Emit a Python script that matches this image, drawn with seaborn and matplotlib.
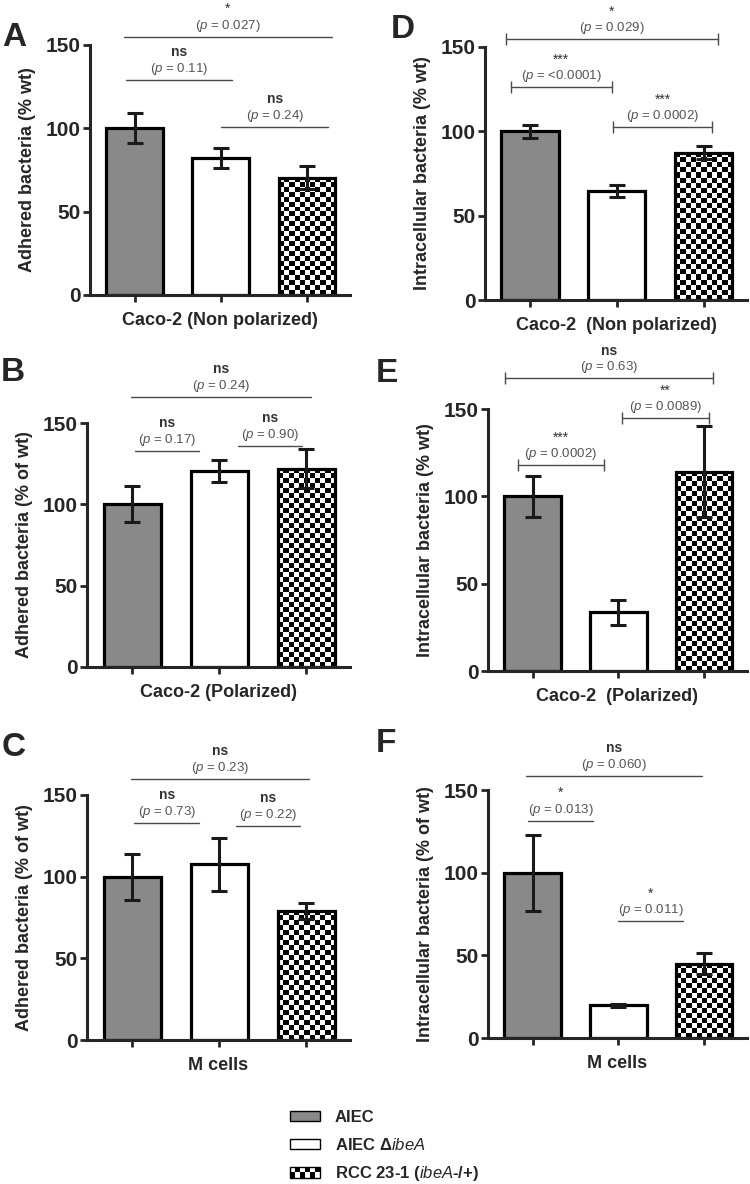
import numpy as np
import matplotlib
matplotlib.use("Agg")
import matplotlib.pyplot as plt
from matplotlib.patches import Patch, Rectangle
from matplotlib.legend_handler import HandlerBase
import seaborn as sns

# =========================
# DATA (mean and SEM, % of wt)
# =========================
strains = ["AIEC", "AIEC ΔibeA", "RCC 23-1 (ibeA-/+)"]

a_mean = [100, 82, 70.5]
a_sem = [9, 6, 7]
a_stars = ["*", "ns", "ns"]
a_pvals = ["0.027", "0.11", "0.24"]

b_mean = [100, 120.5, 122]
b_sem = [11, 7, 12]
b_stars = ["ns", "ns", "ns"]
b_pvals = ["0.24", "0.17", "0.90"]

c_mean = [100, 107.5, 79]
c_sem = [14, 16, 5]
c_stars = ["ns", "ns", "ns"]
c_pvals = ["0.23", "0.73", "0.22"]

d_mean = [100, 64.7, 87.4]
d_sem = [4, 3.4, 4]
d_stars = ["*", "***", "***"]
d_pvals = ["0.029", "<0.0001", "0.0002"]

e_mean = [100, 33.5, 114]
e_sem = [11.8, 7, 26]
e_stars = ["ns", "**", "***"]
e_pvals = ["0.63", "0.0089", "0.0002"]

f_mean = [100, 19.7, 45]
f_sem = [23, 1, 6.5]
f_stars = ["ns", "*", "*"]
f_pvals = ["0.060", "0.013", "0.011"]

# =========================
# STYLE
# =========================
sns.set_style("ticks")
plt.rcParams["font.family"] = ["Liberation Sans", "DejaVu Sans"]
plt.rcParams["mathtext.fontset"] = "custom"
plt.rcParams["mathtext.rm"] = "Liberation Sans"
plt.rcParams["mathtext.it"] = "Liberation Sans:italic"
plt.rcParams["mathtext.bf"] = "Liberation Sans:bold"

gray = "#898989"
palette = [gray, "white", "white"]

fig = plt.figure(figsize=(7.5, 11.84), dpi=100)
W, H = 750, 1184


def px_rect(x0, y0, x1, y1):
    return [x0 / W, 1 - y1 / H, (x1 - x0) / W, (y1 - y0) / H]


# bracket geometry: (x from, x to, y level), end caps on/off
panels = [
    dict(letter="A", rect=px_rect(90, 45, 350, 295), lpos=(14, 37),
         mean=a_mean, sem=a_sem, stars=a_stars, pvals=a_pvals,
         ylabel="Adhered bacteria (% wt)", xlabel="Caco-2 (Non polarized)",
         br=[(-0.13, 2.29, 155), (-0.10, 1.13, 129), (1.00, 2.25, 100.8)], caps=False),
    dict(letter="B", rect=px_rect(87, 423, 350, 667), lpos=(13, 372),
         mean=b_mean, sem=b_sem, stars=b_stars, pvals=b_pvals,
         ylabel="Adhered bacteria (% of wt)", xlabel="Caco-2 (Polarized)",
         br=[(-0.01, 2.05, 166), (0.03, 0.77, 133), (1.21, 1.95, 136)], caps=False),
    dict(letter="C", rect=px_rect(87, 795, 350, 1040), lpos=(14, 748),
         mean=c_mean, sem=c_sem, stars=c_stars, pvals=c_pvals,
         ylabel="Adhered bacteria (% of wt)", xlabel="M cells",
         br=[(-0.01, 2.03, 159.8), (0.02, 0.77, 132.9), (1.19, 1.93, 131)], caps=False),
    dict(letter="D", rect=px_rect(485, 47, 747, 300), lpos=(403, 30),
         mean=d_mean, sem=d_sem, stars=d_stars, pvals=d_pvals,
         ylabel="Intracellular bacteria (% wt)", xlabel="Caco-2  (Non polarized)",
         br=[(-0.28, 2.16, 154.7), (-0.22, 0.94, 126), (0.96, 2.10, 102.5)], caps=True),
    dict(letter="E", rect=px_rect(488, 409, 747, 671), lpos=(387, 373),
         mean=e_mean, sem=e_sem, stars=e_stars, pvals=e_pvals,
         ylabel="Intracellular bacteria (% wt)", xlabel="Caco-2  (Polarized)",
         br=[(-0.32, 2.10, 167.5), (1.04, 2.06, 144.6), (-0.17, 0.83, 117.7)], caps=True),
    dict(letter="F", rect=px_rect(488, 790, 747, 1038), lpos=(386, 744),
         mean=f_mean, sem=f_sem, stars=f_stars, pvals=f_pvals,
         ylabel="Intracellular bacteria (% of wt)", xlabel="M cells",
         br=[(-0.08, 1.98, 158.7), (-0.05, 0.71, 131.4), (1.00, 1.75, 70.7)], caps=False),
]


def fill_checker(ax, bar, cell_px=5):
    x0, w, h = bar.get_x(), bar.get_width(), bar.get_height()
    p0 = ax.transData.transform((x0, 0))
    p1 = ax.transData.transform((x0 + w, h))
    nx = max(1, int(round((p1[0] - p0[0]) / cell_px)))
    ny = max(1, int(round((p1[1] - p0[1]) / cell_px)))
    grid = (np.add.outer(np.arange(ny), np.arange(nx)) % 2).astype(float)
    im = ax.imshow(grid, cmap="gray", vmin=0, vmax=1, extent=(x0, x0 + w, 0, h),
                   origin="lower", interpolation="nearest", aspect="auto",
                   zorder=bar.get_zorder() - 0.1)
    im.set_clip_path(bar)
    bar.set_facecolor("none")


for p in panels:
    ax = fig.add_axes(p["rect"])
    sns.barplot(x=strains, y=p["mean"], hue=strains, palette=palette, legend=False,
                width=0.66, edgecolor="black", linewidth=2.3, errorbar=None, ax=ax)
    ax.set_xlim(-0.52, 2.5)
    ax.set_ylim(0, 150)
    bars = [c[0] for c in ax.containers]
    xs = [b.get_x() + b.get_width() / 2 for b in bars]
    ax.errorbar(xs, p["mean"], yerr=p["sem"], fmt="none", ecolor="#1a1a1a",
                elinewidth=2.2, capsize=6, capthick=2.2, zorder=5)
    fill_checker(ax, bars[2])
    ax.set_xlim(-0.52, 2.5)
    ax.set_ylim(0, 150)

    sns.despine(ax=ax)
    for s in ["left", "bottom"]:
        ax.spines[s].set_linewidth(2.2)
    ax.set_yticks([0, 50, 100, 150])
    ax.set_xticks([0, 1, 2])
    ax.set_xticklabels(["", "", ""])
    ax.tick_params(axis="both", length=5, width=2, pad=2, labelsize=15)
    for t in ax.get_yticklabels():
        t.set_fontweight("bold")
    ax.set_ylabel(p["ylabel"], fontsize=13, fontweight="bold", labelpad=7)
    ax.set_xlabel(p["xlabel"], fontsize=13, fontweight="bold", labelpad=5)

    # significance brackets
    for (x1, x2, y), star, pv in zip(p["br"], p["stars"], p["pvals"]):
        ax.plot([x1, x2], [y, y], color="#4a4a4a", lw=1, clip_on=False,
                marker="|" if p["caps"] else None, markersize=9, markeredgewidth=1)
        xm = (x1 + x2) / 2
        ax.annotate(rf"($\mathit{{p}}$ = {pv})", (xm, y), xytext=(0, 8),
                    textcoords="offset points", ha="center", va="center",
                    fontsize=9.5, color="#555555", annotation_clip=False)
        ax.annotate(star, (xm, y), xytext=(0, 20), textcoords="offset points",
                    ha="center", va="center", fontsize=10,
                    fontweight="bold" if star == "ns" else "normal",
                    color="#333333", annotation_clip=False)

    fig.text(p["lpos"][0] / W, 1 - p["lpos"][1] / H, p["letter"], fontsize=24,
             fontweight="bold", ha="center", va="center")


# =========================
# LEGEND
# =========================
class CheckerHandler(HandlerBase):
    def create_artists(self, legend, orig_handle, xdescent, ydescent, width, height,
                       fontsize, trans):
        arts = [Rectangle((-xdescent, -ydescent), width, height, facecolor="white",
                          edgecolor="black", lw=1, transform=trans)]
        nx, ny = 6, 2
        cw, ch = width / nx, height / ny
        for i in range(nx):
            for j in range(ny):
                if (i + j) % 2 == 0:
                    arts.append(Rectangle((-xdescent + i * cw, -ydescent + j * ch), cw, ch,
                                          facecolor="black", lw=0, transform=trans))
        return arts


h_gray = Patch(facecolor=gray, edgecolor="black", lw=1)
h_white = Patch(facecolor="white", edgecolor="black", lw=1)
h_check = Patch(facecolor="white", edgecolor="black", lw=1)
labels = ["AIEC", r"AIEC Δ$\mathit{ibeA}$", r"RCC 23-1 ($\mathit{ibeA}$-/+)"]
fig.legend([h_gray, h_white, h_check], labels, handler_map={h_check: CheckerHandler()},
           loc="upper left", bbox_to_anchor=(290 / W, 1 - 1110 / H), frameon=False,
           prop={"weight": "bold", "size": 12}, handlelength=1.8, handleheight=0.6,
           handletextpad=0.9, labelspacing=0.7, borderpad=0, borderaxespad=0)

fig.savefig("out.png", dpi=100)
